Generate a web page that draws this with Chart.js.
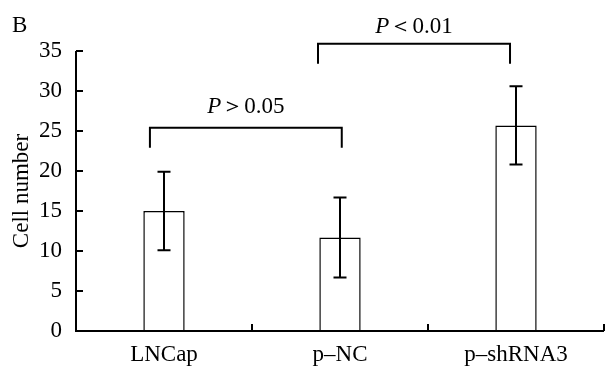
<!DOCTYPE html>
<html lang="en">
<head>
  <meta charset="UTF-8" />
  <title>Cell number</title>
  <script src="https://cdn.jsdelivr.net/npm/chart.js"></script>
  <style>
    html, body { margin: 0; padding: 0; background: #fff; }
    #wrap { width: 605px; height: 369px; }
  </style>
</head>
<body>
  <div id="wrap"><canvas id="myChart"></canvas></div>

  <script>
    // data
    const groups = ['LNCap', 'p\u2013NC', 'p\u2013shRNA3'];
    const cellCount = [15.0, 11.7, 25.7];
    const cellSd = [4.9, 5.0, 4.9];
    const yTicks = [0, 5, 10, 15, 20, 25, 30, 35];

    // significance brackets: [from category, to category, label]
    const compareFrom = [0, 1];
    const compareTo = [1, 2];
    const compareText = ['>0.05', '<0.01'];

    const serif = '"Liberation Serif", "Times New Roman", serif';
    const fs = 23;

    const figurePlugin = {
      id: 'figure',
      afterDraw(chart) {
        const ctx = chart.ctx;
        const x = chart.scales.x;
        const y = chart.scales.y;
        const area = chart.chartArea;
        ctx.save();
        ctx.strokeStyle = '#000';
        ctx.fillStyle = '#000';

        // error bars
        ctx.lineWidth = 2;
        cellCount.forEach((v, i) => {
          const cx = x.getPixelForValue(i);
          const top = y.getPixelForValue(v + cellSd[i]);
          const bot = y.getPixelForValue(v - cellSd[i]);
          ctx.beginPath();
          ctx.moveTo(cx, top); ctx.lineTo(cx, bot);
          ctx.moveTo(cx - 6.5, top); ctx.lineTo(cx + 6.5, top);
          ctx.moveTo(cx - 6.5, bot); ctx.lineTo(cx + 6.5, bot);
          ctx.stroke();
        });

        // axes and inward tick marks
        ctx.beginPath();
        ctx.moveTo(area.left, area.top);
        ctx.lineTo(area.left, area.bottom);
        ctx.lineTo(area.right, area.bottom);
        yTicks.forEach(t => {
          const py = y.getPixelForValue(t);
          ctx.moveTo(area.left, py); ctx.lineTo(area.left + 7, py);
        });
        groups.forEach((g, i) => {
          const px = x.getPixelForValue(i + 0.5);
          ctx.moveTo(px, area.bottom); ctx.lineTo(px, area.bottom - 7);
        });
        ctx.stroke();

        // brackets (legs sit slightly off the bar centres like the original)
        const legShift = [[-0.08, 0.01], [-0.125, -0.034]];
        const barTop = [25.4, 35.9];
        const legDrop = 2.5;
        const textGap = [14.5, 10.5];
        ctx.lineWidth = 2;
        compareFrom.forEach((a, k) => {
          const x1 = x.getPixelForValue(a + legShift[k][0]);
          const x2 = x.getPixelForValue(compareTo[k] + legShift[k][1]);
          const yt = y.getPixelForValue(barTop[k]);
          const yb = y.getPixelForValue(barTop[k] - legDrop);
          ctx.beginPath();
          ctx.moveTo(x1, yb); ctx.lineTo(x1, yt); ctx.lineTo(x2, yt); ctx.lineTo(x2, yb);
          ctx.stroke();

          // "P" in italics, then the comparison
          const rest = compareText[k].replace('<', '\uFF1C').replace('>', '\uFF1E');
          ctx.font = 'italic ' + fs + 'px ' + serif;
          const wP = ctx.measureText('P').width;
          ctx.font = fs + 'px ' + serif;
          const wR = ctx.measureText(rest).width;
          const mid = (x1 + x2) / 2;
          const base = yt - textGap[k];
          ctx.textBaseline = 'alphabetic';
          ctx.textAlign = 'left';
          ctx.font = 'italic ' + fs + 'px ' + serif;
          ctx.fillText('P', mid - (wP + wR) / 2, base);
          ctx.font = fs + 'px ' + serif;
          ctx.fillText(rest, mid - (wP + wR) / 2 + wP, base);
        });

        // panel letter
        ctx.font = fs + 'px ' + serif;
        ctx.textAlign = 'left';
        ctx.fillText('B', 12, 32);
        ctx.restore();
      }
    };

    new Chart(document.getElementById('myChart'), {
      type: 'bar',
      data: {
        labels: groups,
        datasets: [{
          data: cellCount,
          backgroundColor: '#fff',
          borderColor: '#000',
          borderWidth: 1.5,
          barPercentage: 0.235,
          categoryPercentage: 1
        }]
      },
      options: {
        responsive: true,
        maintainAspectRatio: false,
        animation: false,
        layout: { padding: { top: 51, right: 1, left: 0, bottom: 0 } },
        plugins: {
          legend: { display: false },
          tooltip: { enabled: false }
        },
        scales: {
          x: {
            grid: { display: false, drawTicks: false },
            border: { display: false },
            ticks: { color: '#000', padding: 10, font: { family: serif, size: fs } },
            afterFit(scale) { scale.height = 38; }
          },
          y: {
            min: 0,
            max: 35,
            afterBuildTicks(scale) { scale.ticks = yTicks.map(v => ({ value: v })); },
            grid: { display: false, drawTicks: false },
            border: { display: false },
            ticks: { color: '#000', padding: 14, font: { family: serif, size: fs } },
            title: {
              display: true,
              text: 'Cell number',
              color: '#000',
              padding: { top: 8, bottom: 0 },
              font: { family: serif, size: fs }
            },
            afterFit(scale) { scale.width = 76; }
          }
        }
      },
      plugins: [figurePlugin]
    });
  </script>
</body>
</html>
